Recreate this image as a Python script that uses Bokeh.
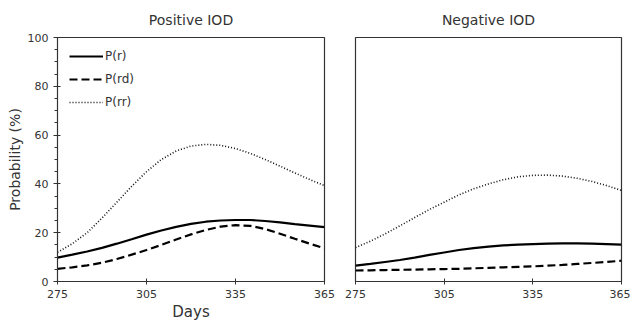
from bokeh.plotting import figure
from bokeh.layouts import row
from bokeh.models import Legend, LegendItem, FixedTicker, Range1d
from bokeh.embed import file_html
from bokeh.resources import INLINE

days = [275, 280, 285, 290, 295, 300, 305, 310, 315, 320, 325, 330, 335, 340, 345, 350, 355, 360, 365]

pos_r = [9.8, 11.0, 12.3, 13.8, 15.5, 17.3, 19.2, 20.9, 22.4, 23.6, 24.5, 25.0, 25.2, 25.2, 24.8, 24.2, 23.5, 22.9, 22.3]
pos_rd = [5.2, 5.8, 6.6, 7.7, 9.2, 11.0, 12.9, 15.0, 17.2, 19.3, 21.1, 22.5, 23.1, 22.8, 21.5, 19.6, 17.5, 15.5, 13.6]
pos_rr = [12.0, 15.5, 20.0, 26.0, 32.5, 39.0, 45.0, 50.0, 53.5, 55.5, 56.2, 55.8, 54.5, 52.5, 50.0, 47.3, 44.5, 41.8, 39.3]

neg_r = [6.5, 7.2, 8.0, 8.8, 9.8, 10.9, 11.9, 12.9, 13.7, 14.3, 14.8, 15.1, 15.3, 15.5, 15.6, 15.6, 15.5, 15.3, 15.1]
neg_rd = [4.5, 4.6, 4.7, 4.8, 4.9, 5.0, 5.1, 5.2, 5.4, 5.6, 5.8, 6.0, 6.2, 6.5, 6.8, 7.2, 7.6, 8.0, 8.5]
neg_rr = [13.9, 16.5, 19.5, 22.8, 26.2, 29.5, 32.5, 35.5, 38.0, 40.0, 41.7, 42.9, 43.5, 43.6, 43.2, 42.3, 41.0, 39.3, 37.3]

x_ticks = [275, 305, 335, 365]
y_ticks = [0, 20, 40, 60, 80, 100]
titles = ["Positive IOD", "Negative IOD"]
series_labels = ["P(r)", "P(rd)", "P(rr)"]

FONT = "DejaVu Sans"
TXT = "#333333"


def make_panel(title, r, rd, rr, width, height, bl, br, bt, bb, show_y, show_legend):
    p = figure(width=width, height=height, output_backend="svg", toolbar_location=None,
               x_range=Range1d(275, 365), y_range=Range1d(0, 100),
               min_border_left=bl, min_border_right=br,
               min_border_top=bt, min_border_bottom=bb)
    p.title.text = title
    p.title.align = "center"
    p.title.text_font = FONT
    p.title.text_font_size = "14px"
    p.title.text_font_style = "normal"
    p.title.text_color = TXT
    p.title.offset = 0
    p.title.standoff = 19
    p.xgrid.visible = False
    p.ygrid.visible = False
    p.outline_line_color = "#333333"
    p.outline_line_width = 1.2
    p.background_fill_color = "white"
    p.border_fill_color = "white"

    l1 = p.line(days, r, line_color="black", line_width=2.2)
    l2 = p.line(days, rd, line_color="black", line_width=2.2, line_dash="8 4")
    l3 = p.line(days, rr, line_color="#111111", line_width=1.6, line_dash="1 2")

    xa = p.xaxis[0]
    xa.ticker = FixedTicker(ticks=x_ticks)
    xa.minor_tick_line_color = None
    xa.major_tick_in = 3
    xa.major_tick_out = 3
    xa.major_label_standoff = 5
    xa.major_label_text_font = FONT
    xa.major_label_text_font_size = "11px"
    xa.major_label_text_color = TXT
    xa.axis_line_color = "#333333"
    xa.major_tick_line_color = "#333333"

    ya = p.yaxis[0]
    if show_y:
        ya.ticker = FixedTicker(ticks=y_ticks, minor_ticks=list(range(0, 101, 5)))
        ya.major_tick_in = 3
        ya.major_tick_out = 4
        ya.minor_tick_in = 0
        ya.minor_tick_out = 3
        ya.major_label_standoff = 5
        ya.major_label_text_font = FONT
        ya.major_label_text_font_size = "11px"
        ya.major_label_text_color = TXT
        ya.axis_label = "Probability (%)"
        ya.axis_label_text_font = FONT
        ya.axis_label_text_font_size = "14px"
        ya.axis_label_text_font_style = "normal"
        ya.axis_label_text_color = TXT
        ya.axis_label_standoff = 2
        ya.axis_line_color = "#333333"
        ya.major_tick_line_color = "#333333"
        ya.minor_tick_line_color = "#333333"
        xa.axis_label = "Days"
        xa.axis_label_text_font = FONT
        xa.axis_label_text_font_size = "15px"
        xa.axis_label_text_font_style = "normal"
        xa.axis_label_text_color = TXT
        xa.axis_label_standoff = 2
    else:
        ya.visible = False

    if show_legend:
        legend = Legend(items=[LegendItem(label=series_labels[0], renderers=[l1]),
                               LegendItem(label=series_labels[1], renderers=[l2]),
                               LegendItem(label=series_labels[2], renderers=[l3])],
                        location="top_left", margin=12, padding=0, spacing=9,
                        label_height=14, glyph_height=14, glyph_width=34, label_standoff=2,
                        label_text_font=FONT, label_text_font_size="12px", label_text_color=TXT,
                        border_line_alpha=0, background_fill_alpha=0)
        p.add_layout(legend, "center")
    return p


p1 = make_panel(titles[0], pos_r, pos_rd, pos_rr, 340, 323, 57, 16, 37, 41, True, True)
p2 = make_panel(titles[1], neg_r, neg_rd, neg_rr, 290, 323, 15, 9, 35, 42, False, False)

layout = row(p1, p2)
open("out.html", "w").write(file_html(layout, INLINE))
